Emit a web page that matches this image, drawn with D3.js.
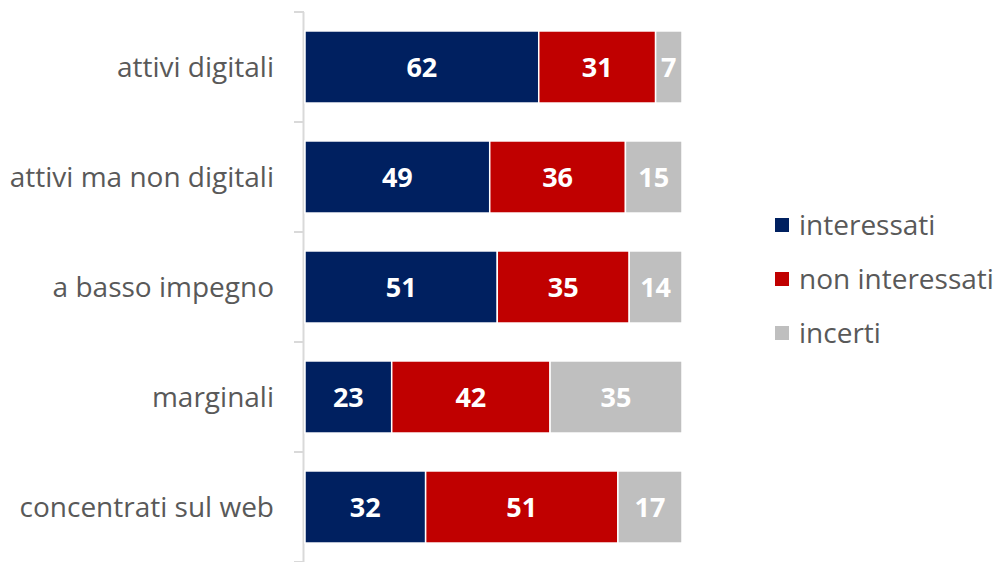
<!DOCTYPE html>
<html>
<head>
<meta charset="utf-8">
<script src="https://cdn.jsdelivr.net/npm/d3@7"></script>
<style>
  body { margin: 0; background: #fff; }
  svg { font-family: "Open Sans", "Noto Sans", sans-serif; }
</style>
</head>
<body>
<div id="chart"></div>
<script>
const categories = ['attivi digitali', 'attivi ma non digitali', 'a basso impegno', 'marginali', 'concentrati sul web'];
const seriesNames = ['interessati', 'non interessati', 'incerti'];
const interessati = [62, 49, 51, 23, 32];
const nonInteressati = [31, 36, 35, 42, 51];
const incerti = [7, 15, 14, 35, 17];
const colors = ['#002060', '#c00000', '#bfbfbf'];

const width = 995, height = 562;
const margin = {top: 12, right: 313, bottom: 0, left: 305};

const rows = categories.map((c, i) => ({
  cat: c, 'interessati': interessati[i], 'non interessati': nonInteressati[i], 'incerti': incerti[i]
}));
const stacked = d3.stack().keys(seriesNames)(rows);

const svg = d3.select('#chart').append('svg')
  .attr('width', width)
  .attr('height', height);

const x = d3.scaleLinear().domain([0, 100]).range([margin.left, width - margin.right]);
const y = d3.scaleBand().domain(categories).range([margin.top, height - margin.bottom])
  .paddingInner(0.345).paddingOuter(0.1725);

// axis with tick marks between categories
const step = y.step();
const axisG = svg.append('g');
axisG.append('line')
  .attr('x1', 303.5).attr('x2', 303.5)
  .attr('y1', margin.top).attr('y2', height)
  .attr('stroke', '#d9d9d9').attr('stroke-width', 2);
axisG.selectAll('.tk').data(d3.range(categories.length + 1)).join('line')
  .attr('x1', 294).attr('x2', 304)
  .attr('y1', d => margin.top + d * step).attr('y2', d => margin.top + d * step)
  .attr('stroke', '#d9d9d9').attr('stroke-width', 2);

axisG.selectAll('.lbl').data(categories).join('text')
  .attr('x', 274)
  .attr('y', d => y(d) + y.bandwidth() / 2)
  .attr('dy', '0.35em')
  .attr('text-anchor', 'end')
  .attr('fill', '#595959')
  .attr('font-size', 28)
  .text(d => d);

const layers = svg.selectAll('.layer').data(stacked).join('g')
  .attr('fill', (d, i) => colors[i]);

layers.selectAll('rect').data(d => d).join('rect')
  .attr('x', d => x(d[0]))
  .attr('width', d => x(d[1]) - x(d[0]))
  .attr('y', d => y(d.data.cat))
  .attr('height', y.bandwidth())
  .attr('stroke', '#fff')
  .attr('stroke-width', 1.5);

layers.selectAll('text').data(d => d).join('text')
  .attr('x', d => (x(d[0]) + x(d[1])) / 2)
  .attr('y', d => y(d.data.cat) + y.bandwidth() / 2)
  .attr('dy', '0.36em')
  .attr('text-anchor', 'middle')
  .attr('fill', '#fff')
  .attr('font-weight', 'bold')
  .attr('font-size', 27)
  .text(d => d[1] - d[0]);

// legend
const legend = svg.append('g');
const lg = legend.selectAll('g').data(seriesNames).join('g')
  .attr('transform', (d, i) => `translate(775, ${225 + i * 54})`);
lg.append('rect')
  .attr('x', 0).attr('y', -7).attr('width', 14).attr('height', 14)
  .attr('fill', (d, i) => colors[i]);
lg.append('text')
  .attr('x', 24).attr('dy', '0.35em')
  .attr('fill', '#595959')
  .attr('font-size', 28)
  .text(d => d);
</script>
</body>
</html>
